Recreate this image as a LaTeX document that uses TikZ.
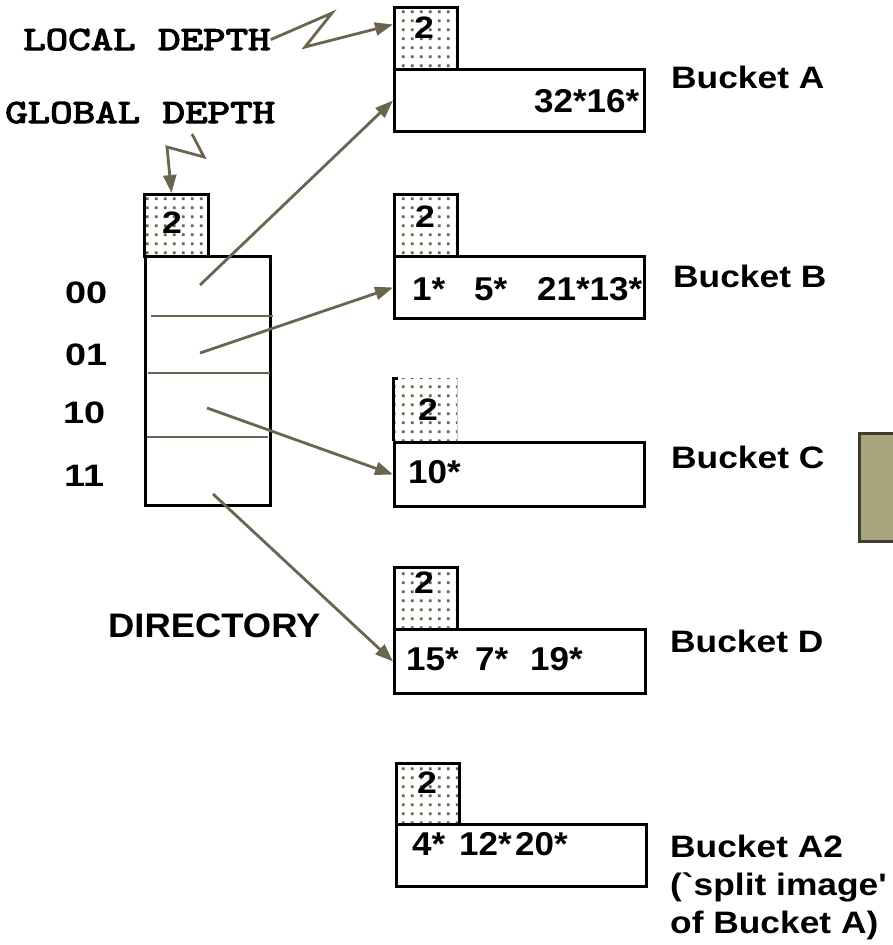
\documentclass[tikz,border=0pt]{standalone}
\usepackage{fontspec}
\newfontfamily\arial{Liberation Sans}
\newfontfamily\cour{lmmono10-regular.otf}[FakeBold=3]
\usetikzlibrary{arrows.meta,patterns.meta}
\definecolor{olv}{HTML}{6B6550}
\definecolor{olvfill}{HTML}{A8A47D}
\definecolor{olvedge}{HTML}{3E3D30}
\tikzdeclarepattern{
  name=stip,
  type=uncolored,
  bounding box={(0pt,0pt) and (8.5pt,8.5pt)},
  tile size={(8.5pt,8.5pt)},
  code={\fill (2pt,2pt) rectangle (4.8pt,4.8pt);}
}
\newcommand\sx[2]{\scalebox{#1}[1]{#2}}
\tikzset{
  box/.style={draw=black,line width=3pt,rectangle,inner sep=0pt,anchor=north west},
  dep/.style={box,pattern=stip,pattern color=olv},
  conn/.style={draw=olv,line width=2.8pt,-{Triangle[length=18pt,width=13pt]}},
  lnk/.style={draw=olv,line width=2.8pt},
  txt/.style={inner sep=0pt,anchor=base west,text=black},
  ent/.style={txt,font=\arial\bfseries\fontsize{33}{40}\selectfont},
  lab/.style={txt,font=\arial\bfseries\fontsize{31}{38}\selectfont},
  two/.style={inner sep=0pt,anchor=base,font=\arial\bfseries\fontsize{31}{36}\selectfont},
  mono/.style={txt,font=\cour\fontsize{34}{40}\selectfont},
}
\begin{document}
\begin{tikzpicture}[x=1pt,y=-1pt]
\useasboundingbox (0,0) rectangle (893,945);

% side olive box (cropped)
\node[draw=olvedge,fill=olvfill,line width=2.6pt,rectangle,inner sep=0pt,anchor=north west,minimum width=60pt,minimum height=108pt] (side) at (858,432) {};

% depth labels
\node[mono] (ld) at (23,50) {\sx{1.26}{LOCAL DEPTH}};
\node[mono] (gd) at (5,123) {\sx{1.26}{GLOBAL DEPTH}};

% directory
\node[dep,minimum width=64pt,minimum height=62pt] (dG) at (143,193) {};
\node[two] at (172,233) {\sx{1.15}{2}};
\node[box,minimum width=125pt,minimum height=249pt] (dir) at (144,255) {};
\draw[lnk] (151,316) -- (273,316);
\draw[lnk] (148,373) -- (270,373);
\draw[lnk] (147,437) -- (268,437);

\node[lab] (l00) at (65,303) {\sx{1.22}{00}};
\node[lab] (l01) at (65,365) {\sx{1.22}{01}};
\node[lab] (l10) at (63,423) {\sx{1.22}{10}};
\node[lab] (l11) at (64,486) {\sx{1.22}{11}};
\node[txt,font=\arial\bfseries\fontsize{34}{40}\selectfont] (dlab) at (108,637) {\sx{1.07}{DIRECTORY}};

% Bucket A
\node[dep,minimum width=63pt,minimum height=62pt] (dA) at (393,6) {};
\node[two] at (424,38) {\sx{1.15}{2}};
\node[box,minimum width=250pt,minimum height=62pt] (bA) at (393,68) {};
\node[ent] at (534,112) {\sx{1.06}{32*16*}};
\node[lab] at (671,88) {\sx{1.14}{Bucket A}};

% Bucket B
\node[dep,minimum width=63pt,minimum height=62pt] (dB) at (393,193) {};
\node[two] at (425,227) {\sx{1.15}{2}};
\node[box,minimum width=250pt,minimum height=62pt] (bB) at (393,255) {};
\node[ent] at (412,300) {\makebox[62pt][l]{\sx{1.06}{1*}}\makebox[63pt][l]{\sx{1.06}{5*}}\sx{1.06}{21*13*}};
\node[lab] at (673,287) {\sx{1.14}{Bucket B}};

% Bucket C
\node[inner sep=0pt,anchor=north west,minimum width=64pt,minimum height=63pt,pattern=stip,pattern color=olv] (dC) at (393,378) {};
\draw[line width=3pt] ([xshift=5pt]dC.north west) -- (dC.north west) -- (dC.south west);
\draw[gray!45,line width=1pt] (dC.north east) -- (dC.south east);
\node[two] at (428,420) {\sx{1.15}{2}};
\node[box,minimum width=250pt,minimum height=64pt] (bC) at (393,441) {};
\node[ent] at (408,483) {\sx{1.06}{10*}};
\node[lab] at (671,468) {\sx{1.14}{Bucket C}};

% Bucket D
\node[dep,minimum width=63pt,minimum height=62pt] (dD) at (393,566) {};
\node[two] at (424,593) {\sx{1.15}{2}};
\node[box,minimum width=251pt,minimum height=64pt] (bD) at (393,628) {};
\node[ent] at (406,670) {\makebox[69pt][l]{\sx{1.06}{15*}}\makebox[55pt][l]{\sx{1.06}{7*}}\sx{1.06}{19*}};
\node[lab] at (670,652) {\sx{1.14}{Bucket D}};

% Bucket A2
\node[dep,minimum width=63pt,minimum height=61pt] (dA2) at (395,762) {};
\node[two] at (427,793) {\sx{1.15}{2}};
\node[box,minimum width=250pt,minimum height=62pt] (bA2) at (395,823) {};
\node[ent] at (412,855) {\makebox[47pt][l]{\sx{1.06}{4*}}\makebox[56pt][l]{\sx{1.06}{12*}}\sx{1.06}{20*}};
\node[lab] at (670,857) {\sx{1.14}{Bucket A2}};
\node[lab] at (670,895) {\sx{1.14}{(`split image'}};
\node[lab] at (670,933) {\sx{1.14}{of Bucket A)}};

% zigzag pointers
\coordinate (gs) at (192,134);
\draw[conn] (ld.east) -- (332,13) -- (305,47) -- ([yshift=14pt]dA.west);
\draw[conn] (gs) -- (204,157) -- (167,147) -- ([xshift=-5pt]dG.north);

% directory pointers
\coordinate (s0) at (200,285);
\coordinate (s1) at (200,353);
\coordinate (s2) at (207,408);
\coordinate (s3) at (213,494);
\draw[conn] (s0) -- (bA.west);
\draw[conn] (s1) -- (bB.west);
\draw[conn] (s2) -- (bC.west);
\draw[conn] (s3) -- (bD.west);
\end{tikzpicture}
\end{document}
